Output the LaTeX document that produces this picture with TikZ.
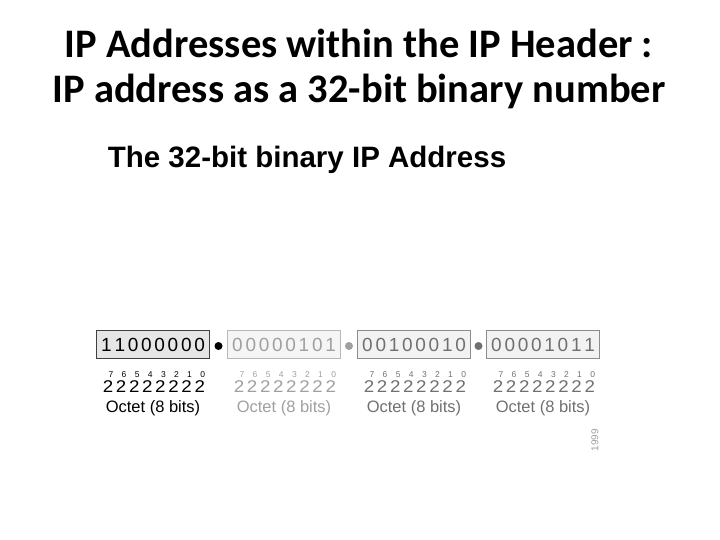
\documentclass[tikz,border=0pt]{standalone}
\usepackage{fontspec}
\setmainfont{Carlito}
\newfontfamily\arialfont{Liberation Sans}
\usetikzlibrary{positioning, calc}

\definecolor{inkA}{HTML}{000000}
\definecolor{lineA}{HTML}{404040}
\definecolor{fillA}{HTML}{E6E6E6}
\definecolor{inkB}{HTML}{A0A0A0}
\definecolor{lineB}{HTML}{B8B8B8}
\definecolor{fillB}{HTML}{F5F5F5}
\definecolor{inkC}{HTML}{707070}
\definecolor{lineC}{HTML}{8C8C8C}
\definecolor{fillC}{HTML}{F2F2F2}

\tikzset{
  octbox/.style={draw, rectangle, line width=0.9pt, minimum width=113, minimum height=28, inner sep=0},
  bitdigit/.style={font=\arialfont\fontsize{19}{19}\selectfont, inner sep=0},
  twobase/.style={font=\arialfont\fontsize{17}{17}\selectfont, inner sep=0, xscale=1.1},
  twoexp/.style={font=\arialfont\fontsize{8.5}{8.5}\selectfont, inner sep=0},
  octlabel/.style={font=\arialfont\fontsize{16.5}{16.5}\selectfont, inner sep=0},
  sepdot/.style={circle, inner sep=0, minimum size=8}
}

\begin{document}
\begin{tikzpicture}[x=1pt, y=-1pt]
\useasboundingbox (0,0) rectangle (720,540);

% Slide title
\node[font=\fontsize{40.5}{45}\selectfont\bfseries, align=center] (title) at (359,69)
  {IP Addresses within the IP Header :\\IP address as a 32-bit binary number};

% Figure heading
\node[font=\arialfont\bfseries\fontsize{29.5}{30}\selectfont] (heading) at (307,160)
  {The 32-bit binary IP Address};

% The four octets
\foreach \cx/\bits/\ln/\fl/\ink [count=\k] in {
    153/{1,1,0,0,0,0,0,0}/lineA/fillA/inkA,
    284/{0,0,0,0,0,1,0,1}/lineB/fillB/inkB,
    414/{0,0,1,0,0,0,1,0}/lineC/fillC/inkC,
    543/{0,0,0,0,1,0,1,1}/lineC/fillC/inkC} {
  \node[octbox, draw=\ln, fill=\fl] (oct\k) at (\cx,344) {};
  \foreach \b [count=\i] in \bits {
    \node[bitdigit, text=\ink] (oct\k-b\i) at (\cx-46.5+13.3*\i-13.3,345) {\b};
  }
  % powers of two
  \foreach \i in {0,...,7} {
    \pgfmathtruncatemacro{\e}{7-\i}
    \node[twobase, text=\ink] (pow\k-\i) at (\cx-45+13.1*\i,386.5) {2};
    \node[twoexp, text=\ink] at (\cx-42+13.1*\i,374.5) {\e};
  }
  \node[octlabel, text=\ink] (lab\k) at (\cx,408) {Octet (8 bits)};
}

% Separating dots
\node[sepdot, fill=black] (dot1) at ($(oct1.east)!0.5!(oct2.west)+(0,2)$) {};
\node[sepdot, fill=inkB] (dot2) at ($(oct2.east)!0.5!(oct3.west)+(0,2)$) {};
\node[sepdot, fill=inkC] (dot3) at ($(oct3.east)!0.5!(oct4.west)+(0,2)$) {};

% Year
\node[font=\arialfont\fontsize{10}{10}\selectfont, text=inkB, rotate=90] (year) at (595,440) {1999};
\end{tikzpicture}
\end{document}
